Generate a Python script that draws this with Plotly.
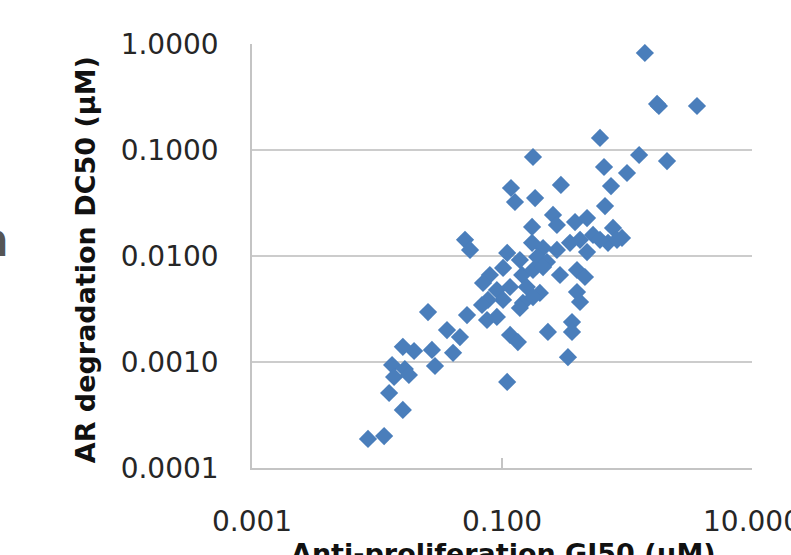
import plotly.graph_objects as go

# Anti-proliferation GI50 (uM) for each compound
gi50 = [
    1.39, 1.80, 1.74, 3.63, 0.608, 1.25, 2.09, 0.655, 1.00, 0.177,
    0.745, 0.667, 0.296, 0.118, 0.127, 0.184, 0.256, 0.275, 0.384, 0.479,
    0.773, 0.912, 0.705, 0.535, 0.421, 0.350, 0.275, 0.479, 0.174, 0.174,
    0.213, 0.110, 0.191, 0.229, 0.102, 0.080, 0.145, 0.177, 0.091, 0.116,
    0.158, 0.201, 0.147, 0.102, 0.0525, 0.0759, 0.091, 0.116, 0.134, 0.233,
    0.291, 0.398, 0.461, 0.398, 0.421, 0.363, 0.363, 0.337, 0.110, 0.0506,
    0.0555, 0.0256, 0.0363, 0.0461, 0.0406, 0.0161, 0.0198, 0.0275, 0.0291, 0.0132,
    0.0167, 0.0137, 0.0180, 0.0125, 0.0161, 0.00847, 0.0114, 0.0705, 0.0773, 0.213,
    0.139, 0.177, 0.832, 0.608, 0.0692, 0.139,
]

# AR degradation DC50 (uM) for the same compounds
dc50 = [
    0.822, 0.260, 0.272, 0.260, 0.130, 0.0897, 0.0787, 0.0691, 0.0607, 0.0859,
    0.0457, 0.0296, 0.0468, 0.0438, 0.0323, 0.0352, 0.0244, 0.0196, 0.0209, 0.0228,
    0.0184, 0.0148, 0.0133, 0.0158, 0.0142, 0.0133, 0.0114, 0.0109, 0.0188, 0.0133,
    0.0119, 0.0107, 0.00979, 0.00878, 0.00771, 0.00662, 0.00662, 0.00738, 0.00478, 0.00510,
    0.00510, 0.00448, 0.00361, 0.00385, 0.00277, 0.00249, 0.00266, 0.00180, 0.00154, 0.00192,
    0.00662, 0.00738, 0.00634, 0.00457, 0.00368, 0.00238, 0.00192, 0.00111, 0.000648, 0.0142,
    0.0114, 0.00296, 0.00200, 0.00172, 0.00122, 0.00139, 0.00127, 0.00130, 0.000917, 0.000937,
    0.000859, 0.000722, 0.000754, 0.000510, 0.000353, 0.000188, 0.000200, 0.00556, 0.00385, 0.00787,
    0.00323, 0.00410, 0.0142, 0.0142, 0.00345, 0.00917,
]

x_tickvals = [0.001, 0.1, 10]
x_ticktext = ["0.001", "0.100", "10.000"]
y_tickvals = [0.0001, 0.001, 0.01, 0.1, 1]
y_ticktext = ["0.0001", "0.0010", "0.0100", "0.1000", "1.0000"]

tick_font = dict(family="DejaVu Sans", size=28, color="#262626")
title_font = dict(family="DejaVu Sans", size=27, color="#111111")

fig = go.Figure()
fig.add_trace(go.Scatter(
    x=gi50, y=dc50, mode="markers",
    marker=dict(symbol="diamond", size=14, color="#4A7EBB", line=dict(width=0)),
    showlegend=False,
))

fig.update_layout(
    width=791, height=555,
    margin=dict(l=252, r=39, t=44, b=87, autoexpand=False),
    paper_bgcolor="white", plot_bgcolor="white",
    xaxis=dict(
        type="log", range=[-3, 1], automargin=False,
        tickvals=x_tickvals, ticktext=x_ticktext,
        showgrid=False, zeroline=False,
        showline=True, linecolor="#c4c4c4", linewidth=1.5,
        ticks="inside", ticklen=10, tickwidth=1.5, tickcolor="#c4c4c4",
        tickfont=tick_font, ticklabelstandoff=28,
        ticklabeloverflow="allow",
    ),
    yaxis=dict(
        type="log", range=[-4, 0], automargin=False,
        tickvals=y_tickvals, ticktext=y_ticktext,
        showgrid=True, gridcolor="#cccccc", gridwidth=1.5,
        zeroline=False,
        showline=True, linecolor="#c4c4c4", linewidth=1.5,
        ticks="", tickfont=tick_font, ticklabelstandoff=26,
    ),
    annotations=[
        dict(text="<b>AR degradation DC50 (µM)</b>", textangle=-90,
             xref="paper", yref="paper", x=-0.334, y=0.49,
             xanchor="center", yanchor="middle", showarrow=False,
             font=title_font),
        dict(text="<b>Anti-proliferation GI50 (µM)</b>",
             xref="paper", yref="paper", x=0.502, y=-0.16,
             xanchor="center", yanchor="top", showarrow=False,
             font=title_font),
        dict(text="<b>n</b>",
             xref="paper", yref="paper", x=-0.482, y=0.538,
             xanchor="right", yanchor="middle", showarrow=False,
             font=dict(family="DejaVu Sans", size=46, color="#555555")),
    ],
)

fig.write_html("out.html")
